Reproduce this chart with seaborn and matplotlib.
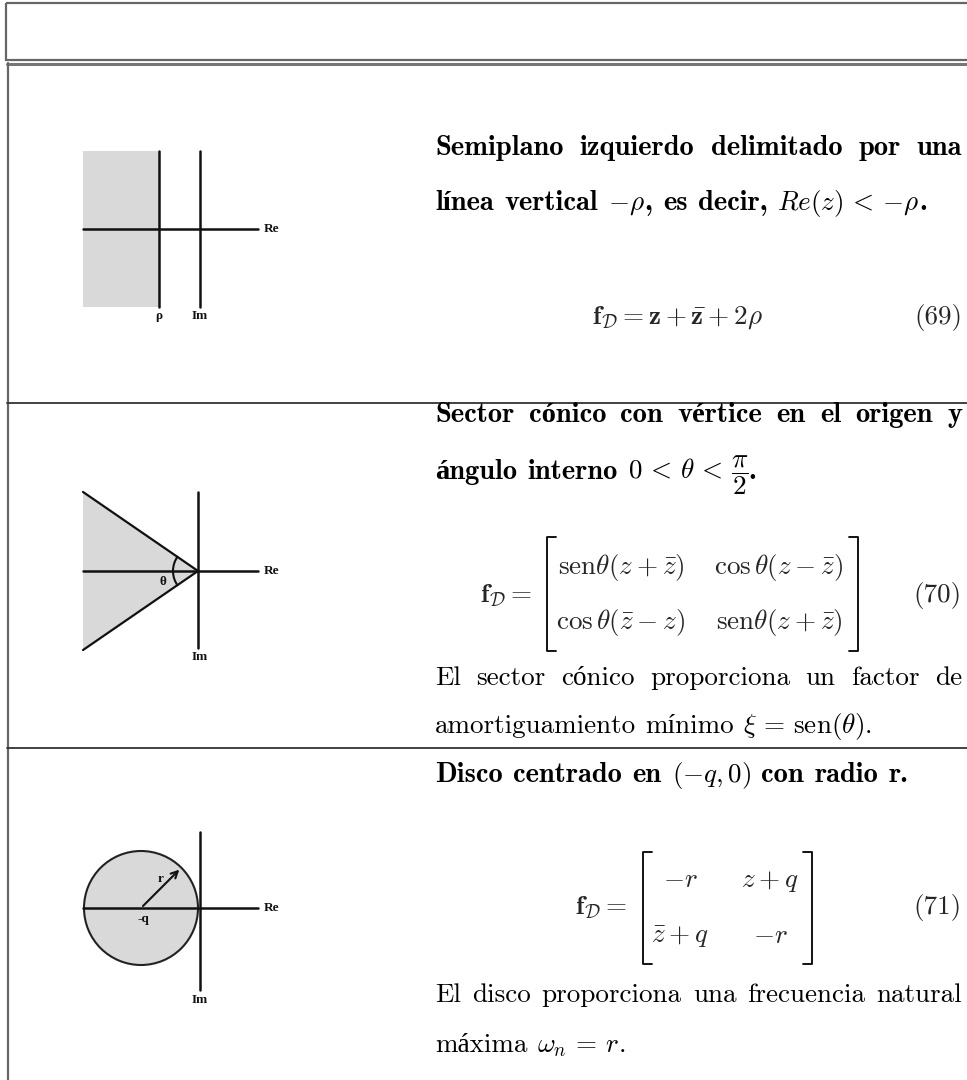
import matplotlib
matplotlib.use('Agg')
import matplotlib.pyplot as plt
from matplotlib.patches import Rectangle, Polygon, Circle, Arc
import seaborn as sns
import numpy as np

# ---- content ----
eq_numbers = ["(69)", "(70)", "(71)"]

# each line = list of words, each word = list of (text, style)  b=bold, r=roman, m=math
row1_lines = [
    [[(w, "b")] for w in "Semiplano izquierdo delimitado por una".split()],
    [[("línea", "b")], [("vertical", "b")], [(r"$-\rho$", "m"), (",", "b")],
     [("es", "b")], [("decir,", "b")], [(r"$Re(z) \,<\, {-}\rho$", "m"), (".", "b")]],
]
row2_lines = [
    [[(w, "b")] for w in "Sector cónico con vértice en el origen y".split()],
    [[("ángulo", "b")], [("interno", "b")],
     [(r"$0 \,<\, \theta \,<\, \dfrac{\pi}{2}$", "m"), (".", "b")]],
    [[(w, "r")] for w in "El sector cónico proporciona un factor de".split()],
    [[("amortiguamiento", "r")], [("mínimo", "r")],
     [(r"$\xi \,=\, \mathrm{sen}(\theta)$", "m"), (".", "r")]],
]
row3_lines = [
    [[("Disco", "b")], [("centrado", "b")], [("en", "b")], [(r"$(-q, 0)$", "m")],
     [("con", "b")], [("radio", "b")], [("r.", "b")]],
    [[(w, "r")] for w in "El disco proporciona una frecuencia natural".split()],
    [[("máxima", "r")], [(r"$\omega_n \,=\, r$", "m"), (".", "r")]],
]

eq69 = r"$\mathbf{f}_{\mathcal{D}} = \mathbf{z} + \bar{\mathbf{z}} + 2\rho$"
fd_label = r"$\mathbf{f}_{\mathcal{D}} =$"
matrix70 = [[r"$\mathrm{sen}\theta(z + \bar{z})$", r"$\cos\theta(z - \bar{z})$"],
            [r"$\cos\theta(\bar{z} - z)$", r"$\mathrm{sen}\theta(z + \bar{z})$"]]
matrix71 = [[r"$-r$", r"$z + q$"],
            [r"$\bar{z} + q$", r"$-r$"]]

axis_names = ["Re", "Im"]
cone_half_angle = 34.5   # degrees
disc_radius = 57

# ---- style ----
sns.set_theme(style="white")
plt.rcParams['mathtext.fontset'] = 'cm'
plt.rcParams['axes.unicode_minus'] = True

FS = 19.5
FS_BOLD = 20.5
STYLE = {
    "b": dict(family=["cmb10", "Liberation Serif"], weight="bold"),
    "r": dict(family=["cmr10", "Liberation Serif"]),
    "m": dict(family=["cmr10", "Liberation Serif"]),
}
LBL = dict(family="Liberation Serif", weight="bold", fontsize=9.5, color="#111")
INK = "#111111"
SHADE = "#d9d9d9"

W, H = 967, 1080
fig = plt.figure(figsize=(W / 100, H / 100), dpi=100)
ax = fig.add_axes([0, 0, 1, 1])
ax.set_xlim(0, W)
ax.set_ylim(H, 0)
ax.axis("off")
renderer = fig.canvas.get_renderer()

X0, X1 = 435, 962


def place_line(words, y, justify=False):
    items, widths = [], []
    bold = any(st == "b" for word in words for _, st in word)
    for word in words:
        parts, wsum = [], 0
        for txt, st in word:
            size = FS_BOLD if st == "b" else FS
            t = ax.text(0, y, txt, fontsize=size, va="baseline", ha="left",
                        color="black", **STYLE[st])
            w = t.get_window_extent(renderer).width
            parts.append((t, w))
            wsum += w
        items.append(parts)
        widths.append(wsum)
    if justify and len(words) > 1:
        gap = (X1 - X0 - sum(widths)) / (len(words) - 1)
    else:
        gap = (0.38 if bold else 0.34) * FS * 100 / 72
    x = X0
    for parts in items:
        for t, w in parts:
            t.set_x(x)
            x += w
        x += gap


def draw_matrix(entries, xl, xr, ytop, ybot, cols, rows):
    s = 9
    ax.plot([xl + s, xl, xl, xl + s], [ytop, ytop, ybot, ybot], color="black", lw=1.3)
    ax.plot([xr - s, xr, xr, xr - s], [ytop, ytop, ybot, ybot], color="black", lw=1.3)
    for i, yy in enumerate(rows):
        for j, xx in enumerate(cols):
            ax.text(xx, yy, entries[i][j], fontsize=FS, ha="center", va="baseline")


# ---- table frame ----
ax.add_patch(Rectangle((6, 3), W, 57, fill=False, ec="#666666", lw=1.6))
ax.plot([7, W], [63.5, 63.5], color="#777777", lw=2.2)
ax.plot([7.5, 7.5], [63, H], color="#666666", lw=1.6)
for yy in [403, 748]:
    ax.plot([7, W], [yy, yy], color="#333333", lw=1.3)

# ---- row 1 : half plane ----
ax.add_patch(Rectangle((83, 151), 159 - 83, 307 - 151, fc=SHADE, ec="none"))
ax.plot([159, 159], [151, 307], color=INK, lw=1.8)
ax.plot([200, 200], [151, 307], color=INK, lw=1.8)
ax.plot([83, 258], [229, 229], color=INK, lw=1.8)
ax.text(264, 229, axis_names[0], ha="left", va="center", **LBL)
ax.text(159, 316, "ρ", ha="center", va="center", **LBL)
ax.text(200, 316, axis_names[1], ha="center", va="center", **LBL)

place_line(row1_lines[0], 155, justify=True)
place_line(row1_lines[1], 210)
ax.text(677, 324, eq69, fontsize=FS, ha="center", va="baseline")
ax.text(X1, 324, eq_numbers[0], fontsize=FS, ha="right", va="baseline", **STYLE["r"])

# ---- row 2 : cone ----
apex = (198, 571)
dy = (apex[0] - 83) * np.tan(np.radians(cone_half_angle))
ax.add_patch(Polygon([apex, (83, apex[1] - dy), (83, apex[1] + dy)], closed=True,
                     fc=SHADE, ec="none"))
ax.plot([83, apex[0], 83], [apex[1] - dy, apex[1], apex[1] + dy], color=INK, lw=1.6)
ax.plot([198, 198], [492, 648], color=INK, lw=1.8)
ax.plot([83, 258], [571, 571], color=INK, lw=1.8)
ax.add_patch(Arc(apex, 50, 50, theta1=180 - cone_half_angle - 2, theta2=180 + cone_half_angle + 2,
                 color=INK, lw=1.5))
ax.text(264, 571, axis_names[0], ha="left", va="center", **LBL)
ax.text(200, 657, axis_names[1], ha="center", va="center", **LBL)
ax.text(163, 582, "θ", ha="center", va="center", **LBL)

place_line(row2_lines[0], 422, justify=True)
place_line(row2_lines[1], 479)
ax.text(532, 602, fd_label, fontsize=FS, ha="right", va="baseline")
draw_matrix(matrix70, 547, 858, 537, 651, [621, 779], [574, 629])
ax.text(X1, 602, eq_numbers[1], fontsize=FS, ha="right", va="baseline", **STYLE["r"])
place_line(row2_lines[2], 685, justify=True)
place_line(row2_lines[3], 733)

# ---- row 3 : disc ----
c = (141, 908)
ax.add_patch(Circle(c, disc_radius, fc=SHADE, ec="#222222", lw=1.5))
ax.plot([200, 200], [832, 990], color=INK, lw=1.8)
ax.plot([83, 258], [908, 908], color=INK, lw=1.8)
tip = (c[0] + disc_radius * np.cos(np.radians(45)), c[1] - disc_radius * np.sin(np.radians(45)))
ax.annotate("", xy=tip, xytext=c, arrowprops=dict(arrowstyle="->", color=INK, lw=1.5))
ax.text(264, 908, axis_names[0], ha="left", va="center", **LBL)
ax.text(200, 1000, axis_names[1], ha="center", va="center", **LBL)
ax.text(143, 919, "-q", ha="center", va="center", **LBL)
ax.text(161, 879, "r", ha="center", va="center", **LBL)

place_line(row3_lines[0], 782)
ax.text(627, 914, fd_label, fontsize=FS, ha="right", va="baseline")
draw_matrix(matrix71, 643, 812, 852, 964, [680, 770], [887, 943])
ax.text(X1, 914, eq_numbers[2], fontsize=FS, ha="right", va="baseline", **STYLE["r"])
place_line(row3_lines[1], 1002, justify=True)
place_line(row3_lines[2], 1052)

fig.savefig("out.png", dpi=100, facecolor="white")
